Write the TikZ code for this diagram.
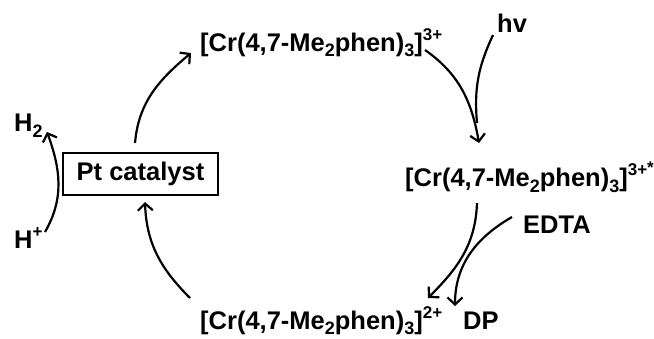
\documentclass[tikz,border=0pt]{standalone}
\usepackage{fontspec}
\setmainfont{Liberation Sans}
\usetikzlibrary{arrows.meta}
\newcommand\mysub[1]{\raisebox{-5pt}{\fontsize{18}{20}\selectfont #1}}
\newcommand\mysup[1]{\raisebox{11pt}{\fontsize{17}{19}\selectfont #1}}
\begin{document}
\begin{tikzpicture}[x=1pt,y=1pt,
  lbl/.style={inner sep=0pt, anchor=base west, font=\fontsize{25.5}{28}\selectfont\bfseries},
  arr/.style={line width=2.2pt, -{Straight Barb[length=7pt,width=15pt,line width=2.2pt]}},
  plain/.style={line width=2.2pt},
  boxnode/.style={draw, line width=2.2pt, minimum width=155pt, minimum height=42pt, inner sep=0pt, font=\fontsize{25.5}{28}\selectfont\bfseries}]
\useasboundingbox (0,0) rectangle (654,338);
\node[boxnode] (pt) at (140.5,164) {Pt catalyst};
\node[lbl] (top) at (200,286) {[Cr(4,7-Me\mysub{2}phen)\mysub{3}]\mysup{3+}};
\node[lbl] (hv) at (497,305) {hv};
\node[lbl] (mid) at (405,151) {[Cr(4,7-Me\mysub{2}phen)\mysub{3}]\mysup{3+\raisebox{3pt}{*}}};
\node[lbl] (edta) at (523,105) {EDTA};
\node[lbl] (bot) at (200,9) {[Cr(4,7-Me\mysub{2}phen)\mysub{3}]\mysup{2+}};
\node[lbl] (dp) at (463,9) {DP};
\node[lbl] (h2) at (14,206) {H\mysub{2}};
\node[lbl] (hp) at (14,90) {H\mysup{+}};
% connector end points
\coordinate (a1s) at (135,195);
\coordinate (a1e) at (191,285);
\coordinate (a2s) at (425,288);
\coordinate (a2e) at (479,195);
\coordinate (hvs) at (493,303);
\coordinate (hve) at (477,215);
\coordinate (a3s) at (477,135);
\coordinate (a3e) at (428,40);
\coordinate (eds) at (512,121);
\coordinate (ede) at (455,32);
\coordinate (a4s) at (190,40);
\coordinate (a4e) at (145,136);
\coordinate (hs) at (45,106);
\coordinate (he) at (47,206);
\draw[arr] (a1s) to[out=85,in=220] (a1e);
\draw[arr] (a2s) to[out=-35,in=100] (a2e);
\draw[plain] (hvs) to[out=-115,in=95] (hve);
\draw[arr] (a3s) to[out=-92,in=45] (a3e);
\draw[arr] (eds) to[out=210,in=90] (ede);
\draw[arr] (a4s) to[out=135,in=-88] (a4e);
\draw[arr] (hs) to[out=60,in=-70] (he);
\end{tikzpicture}
\end{document}
